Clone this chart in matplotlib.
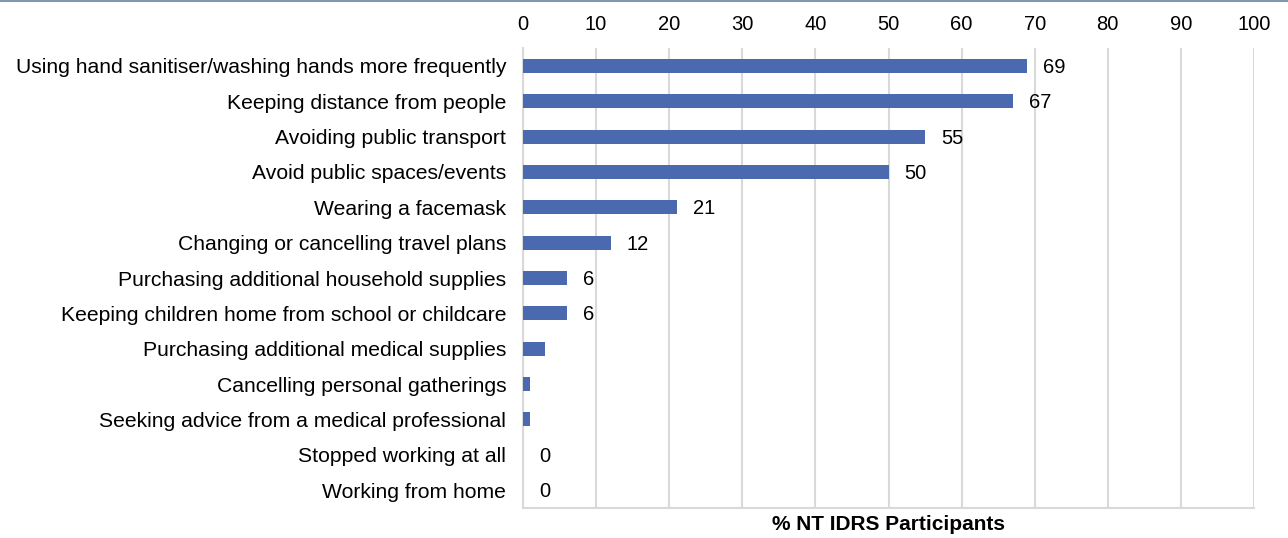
import matplotlib
matplotlib.use("Agg")
import matplotlib.pyplot as plt
from matplotlib.lines import Line2D

plt.rcParams['font.family'] = ['Liberation Sans', 'DejaVu Sans']

categories = [
    "Using hand sanitiser/washing hands more frequently",
    "Keeping distance from people",
    "Avoiding public transport",
    "Avoid public spaces/events",
    "Wearing a facemask",
    "Changing or cancelling travel plans",
    "Purchasing additional household supplies",
    "Keeping children home from school or childcare",
    "Purchasing additional medical supplies",
    "Cancelling personal gatherings",
    "Seeking advice from a medical professional",
    "Stopped working at all",
    "Working from home",
]
values = [69, 67, 55, 50, 21, 12, 6, 6, 3, 1, 1, 0, 0]
labelled = [True, True, True, True, True, True, True, True, False, False, False, True, True]
xticks = list(range(0, 101, 10))

bar_color = "#4A69AE"
grid_color = "#D9D9D9"
fs = 14.5

fig = plt.figure(figsize=(12.88, 5.38), dpi=100)
ax = fig.add_axes([523 / 1288, 1 - 507.7 / 538, (1254 - 523) / 1288, (507.7 - 48.3) / 538])

y = list(range(len(categories)))
ax.barh(y, values, height=0.39, color=bar_color, zorder=3)
ax.set_ylim(len(categories) - 0.5, -0.5)
ax.set_xlim(0, 100)
ax.set_yticks(y)
ax.set_yticklabels(categories, fontsize=15.2)
ax.set_xticks(xticks)
ax.xaxis.tick_top()
ax.tick_params(axis='x', labelsize=fs, length=0, pad=10)
ax.tick_params(axis='y', length=0, pad=12)
ax.grid(axis='x', color=grid_color, linewidth=1.5, zorder=0)
for side in ('top', 'right'):
    ax.spines[side].set_visible(False)
for side in ('left', 'bottom'):
    ax.spines[side].set_color(grid_color)
    ax.spines[side].set_linewidth(1.5)

for yi, v, show in zip(y, values, labelled):
    if show:
        ax.text(v + 2.2, yi + 0.04, f"{v}", va='center', ha='left', fontsize=fs, zorder=4)

ax.set_xlabel("% NT IDRS Participants", fontsize=15, fontweight='bold')
ax.xaxis.set_label_position('bottom')
ax.xaxis.labelpad = 5

fig.add_artist(Line2D([0, 1], [0.999, 0.999], transform=fig.transFigure,
                      color="#8497B0", linewidth=1.5))

fig.savefig("out.png", dpi=100)
